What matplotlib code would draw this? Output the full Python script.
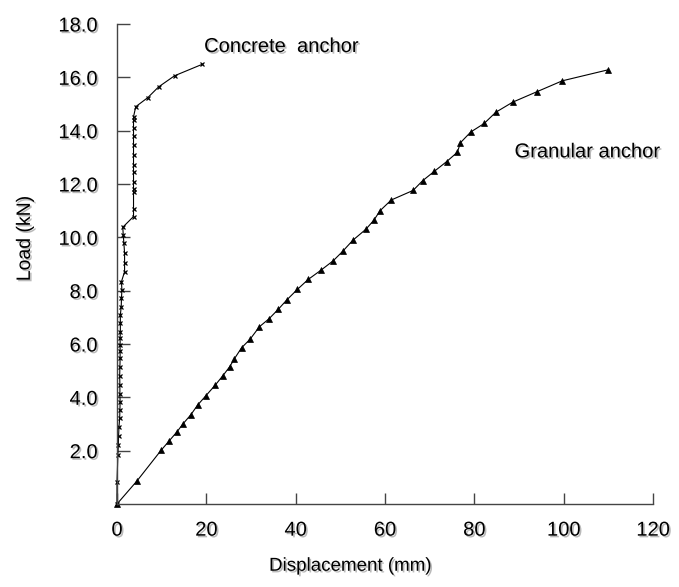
import numpy as np
import matplotlib
matplotlib.use('Agg')
import matplotlib.pyplot as plt
import matplotlib.patheffects as pe

# load-displacement readings (mm, kN)
conc_disp = [0, 0, 0.2, 0.3, 0.35, 0.45, 0.6, 0.65, 0.7, 0.65, 0.65, 0.6, 0.65, 0.7,
             0.7, 0.7, 0.7, 0.75, 0.75, 0.75, 0.95, 1.0, 1.1, 1.0, 1.7, 1.7, 1.7, 1.55,
             1.4, 1.3, 3.7, 3.7, 3.7, 3.7, 3.7, 3.7, 3.7, 3.7, 3.7, 3.7, 3.7, 3.7, 3.7,
             4.2, 6.9, 9.3, 12.9, 19.1]
conc_load = [0, 0.84, 1.84, 2.2, 2.55, 2.9, 3.21, 3.52, 3.81, 4.12, 4.46, 4.8, 5.15,
             5.46, 5.75, 5.96, 6.21, 6.46, 6.78, 7.09, 7.4, 7.71, 8.02, 8.34, 8.71, 9.02,
             9.4, 9.77, 10.09, 10.38, 10.78, 11.05, 11.7, 11.8, 12.09, 12.44, 12.73,
             13.08, 13.45, 13.79, 14.1, 14.4, 14.52, 14.9, 15.24, 15.64, 16.06, 16.49]

gran_disp = [0, 4.5, 9.9, 11.7, 13.4, 14.8, 16.5, 18.1, 19.9, 22.0, 23.7, 25.2, 26.3,
             27.9, 29.8, 31.9, 34.0, 36.1, 38.0, 40.4, 42.8, 45.6, 48.4, 50.5, 52.8,
             55.7, 57.5, 58.9, 61.4, 66.3, 68.4, 71.0, 73.8, 76.2, 76.9, 79.2, 82.2,
             84.8, 88.6, 94.0, 99.7, 109.9]
gran_load = [0, 0.87, 2.02, 2.37, 2.7, 3.01, 3.34, 3.72, 4.06, 4.46, 4.81, 5.14, 5.45,
             5.86, 6.18, 6.65, 6.94, 7.3, 7.65, 8.05, 8.42, 8.76, 9.12, 9.47, 9.89,
             10.3, 10.64, 11.0, 11.4, 11.76, 12.12, 12.47, 12.84, 13.19, 13.55, 13.95,
             14.27, 14.69, 15.07, 15.46, 15.87, 16.28]

xticks = [0, 20, 40, 60, 80, 100, 120]
yticks = [2, 4, 6, 8, 10, 12, 14, 16, 18]

plt.rcParams['font.family'] = ['Liberation Sans', 'DejaVu Sans']
shadow = [pe.SimplePatchShadow(offset=(1.2, -1.2), shadow_rgbFace='0.55', alpha=0.6), pe.Normal()]

fig = plt.figure(figsize=(6.79, 5.87), dpi=100)
ax = fig.add_axes([0.1723, 0.1414, 0.7894, 0.8177])

ax.plot(gran_disp, gran_load, color='k', lw=0.8, marker='^', ms=4.5,
        markeredgewidth=0.5, clip_on=False)
ax.plot(conc_disp, conc_load, color='k', lw=0.8, marker='x', ms=3.5,
        markeredgewidth=0.9, clip_on=False)

ax.set_xlim(0, 120)
ax.set_ylim(0, 18)
ax.set_xticks(xticks)
ax.set_xticklabels([str(t) for t in xticks])
ax.set_yticks(yticks)
ax.set_yticklabels(['%.1f' % t for t in yticks])

for s in ['top', 'right']:
    ax.spines[s].set_visible(False)
for s in ['left', 'bottom']:
    ax.spines[s].set_color('#444444')
    ax.spines[s].set_linewidth(1.0)

ax.tick_params(axis='y', direction='in', length=9.5, width=1.0, color='#444444',
               labelsize=14.5, pad=14)
ax.tick_params(axis='x', direction='in', length=8, width=1.0, color='#444444',
               labelsize=14.5, pad=12)
for lab in ax.get_xticklabels() + ax.get_yticklabels():
    lab.set_path_effects(shadow)

ax.set_xlabel('Displacement (mm)', fontsize=13.5, path_effects=shadow)
ax.xaxis.set_label_coords(0.435, -0.112)
ax.set_ylabel('Load (kN)', fontsize=14, path_effects=shadow)
ax.yaxis.set_label_coords(-0.155, 0.554)

ax.text(19.5, 16.8, 'Concrete  anchor', fontsize=14.5, ha='left', va='bottom',
        path_effects=shadow)
ax.text(89, 12.85, 'Granular anchor', fontsize=14.5, ha='left', va='bottom',
        path_effects=shadow)

fig.savefig('out.png', dpi=100)
